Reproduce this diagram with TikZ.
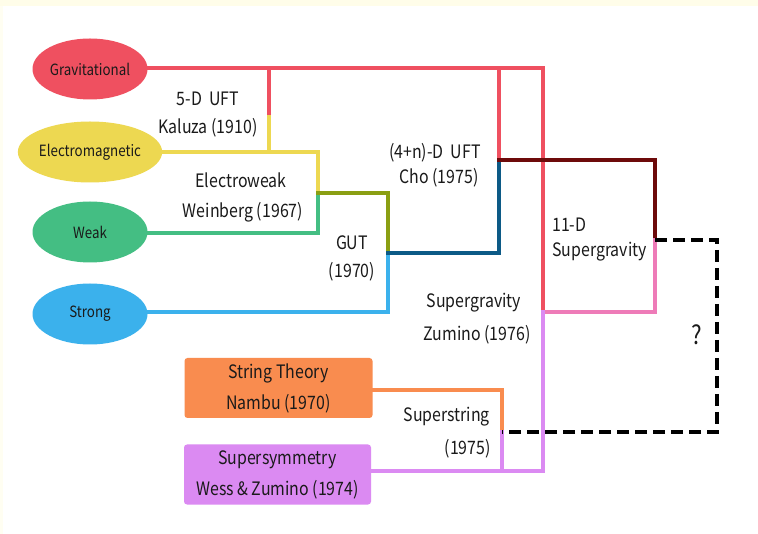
\documentclass[tikz,border=0pt]{standalone}
\usepackage{fontspec}
\setmainfont{Noto Sans CJK KR}[FakeStretch=0.86]
\definecolor{cgrav}{HTML}{EF5060}
\definecolor{cem}{HTML}{EDD851}
\definecolor{cweak}{HTML}{44BE83}
\definecolor{cstrong}{HTML}{3BB1EC}
\definecolor{colive}{HTML}{8A9F13}
\definecolor{cdblue}{HTML}{0C5A86}
\definecolor{cdred}{HTML}{6D0A0A}
\definecolor{cpink}{HTML}{EE7BB8}
\definecolor{corange}{HTML}{F98C4F}
\definecolor{cpurple}{HTML}{DB8AF2}
\definecolor{ccream}{HTML}{FFFDE9}
\definecolor{ctext}{HTML}{1A1A1A}
\tikzset{
  force/.style={ellipse, minimum width=115pt, minimum height=61pt, inner sep=0pt, text=ctext, font=\fontsize{15.5}{15.5}\selectfont},
  theory/.style={rounded corners=3pt, minimum width=188pt, minimum height=60pt, inner sep=0pt, text=ctext, align=center, font=\fontsize{18.5}{31}\selectfont},
  lbl/.style={text=ctext, inner sep=0pt, font=\fontsize{18.5}{18.5}\selectfont},
  conn/.style={line width=4pt, line join=miter, line cap=rect},
}
\usetikzlibrary{shapes.geometric}
\begin{document}
\begin{tikzpicture}[x=1pt,y=-1pt]
\fill[white] (0,0) rectangle (758,534);
\fill[ccream] (0,0) rectangle (758,6);
\fill[ccream!60!white] (0,6) rectangle (3,534);
\useasboundingbox (0,0) rectangle (758,534);

% force nodes
\node[force, fill=cgrav] (grav) at (90,69) {Gravitational};
\node[force, fill=cem] (em) at (90,152) {Electromagnetic};
\node[force, fill=cweak] (weak) at (90,232) {Weak};
\node[force, fill=cstrong] (strong) at (90,314) {Strong};
\node[theory, fill=corange] (string) at (278.5,388) {String Theory\\Nambu (1970)};
\node[theory, fill=cpurple, minimum width=187pt] (susy) at (277.5,474.5) {Supersymmetry\\Wess \& Zumino (1974)};

% junction coordinates
\coordinate (gA) at (147,68);
\coordinate (k1) at (269,68);
\coordinate (k2) at (269,117);
\coordinate (k3) at (269,152);
\coordinate (e1) at (318,152);
\coordinate (ew) at (318,193);
\coordinate (w1) at (318,233);
\coordinate (g1) at (388,193);
\coordinate (gut) at (388,253);
\coordinate (s1) at (388,312);
\coordinate (c1) at (499,68);
\coordinate (cho) at (499,160);
\coordinate (c2) at (499,253);
\coordinate (r1) at (543,68);
\coordinate (sg) at (543,312);
\coordinate (p1) at (543,471);
\coordinate (d1) at (655,160);
\coordinate (eleven) at (655,240);
\coordinate (pk) at (655,312);
\coordinate (q1) at (717,240);
\coordinate (q2) at (717,432);
\coordinate (ss) at (502,432);
\coordinate (o1) at (502,390);
\coordinate (o2) at (502,471);

% connectors
\draw[conn, cgrav] (grav.east |- gA) -- (r1) -- (sg);
\draw[conn, cgrav] (k1) -- (k2);
\draw[conn, cgrav] (c1) -- (cho);
\draw[conn, cem] (k2) -- (k3);
\draw[conn, cem] (em.east |- e1) -- (e1) -- (ew);
\draw[conn, cweak] (weak.east |- w1) -- (w1) -- (ew);
\draw[conn, colive] (ew) -- (g1) -- (gut);
\draw[conn, cstrong] (strong.east |- s1) -- (s1) -- (gut);
\draw[conn, cdblue] (gut) -- (c2) -- (cho);
\draw[conn, cdred] (cho) -- (d1) -- (eleven);
\draw[conn, cpink] (sg) -- (pk) -- (eleven);
\draw[conn, corange] (string.east |- o1) -- (o1) -- (ss);
\draw[conn, cpurple] (susy.east |- o2) -- (p1) -- (sg);
\draw[conn, cpurple] (ss) -- (o2);
\draw[line width=4pt, black, dash pattern=on 12pt off 6pt, line join=miter] (eleven) -- (q1) -- (q2) -- (ss);

% labels
\node[lbl] (l5d) at (208,99) {5-D\ \ UFT};
\node[lbl] (lkal) at (208,128) {Kaluza (1910)};
\node[lbl] (lew) at (241,180) {Electroweak};
\node[lbl] (lwein) at (243,212) {Weinberg (1967)};
\node[lbl] (lgut) at (352,243) {GUT};
\node[lbl] (lgutd) at (352,272) {(1970)};
\node[lbl] (l4n) at (435,153) {(4+n)-D\ \ UFT};
\node[lbl] (lcho) at (439,178) {Cho (1975)};
\node[lbl, anchor=west] (l11) at (552,225) {11-D};
\node[lbl, anchor=west] (l11s) at (552,252) {Supergravity};
\node[lbl] (lsg) at (474,303) {Supergravity};
\node[lbl] (lzum) at (477,335) {Zumino (1976)};
\node[lbl, anchor=east] (lss) at (490,417) {Superstring};
\node[lbl, anchor=east] (lssd) at (491,449) {(1975)};
\node[text=ctext, inner sep=0pt, font=\fontsize{26}{26}\selectfont] (q) at (697,335) {?};
\end{tikzpicture}
\end{document}
